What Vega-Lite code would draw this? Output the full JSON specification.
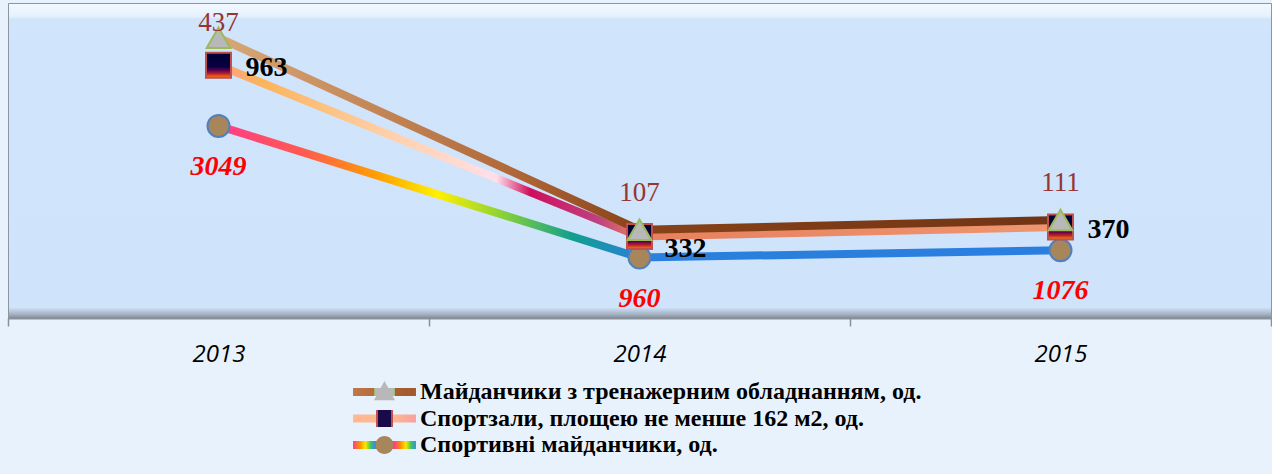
{
  "$schema": "https://vega.github.io/schema/vega-lite/v6.json",
  "autosize": "none",
  "width": 1263,
  "height": 315,
  "padding": {"left": 8, "top": 3, "right": 1, "bottom": 156},
  "background": "#e8f2fd",
  "data": {
    "values": [
      {"year": "2013", "series": "Майданчики з тренажерним обладнанням, од.", "order": 3, "value": 437},
      {"year": "2014", "series": "Майданчики з тренажерним обладнанням, од.", "order": 3, "value": 107},
      {"year": "2015", "series": "Майданчики з тренажерним обладнанням, од.", "order": 3, "value": 111},
      {"year": "2013", "series": "Спортзали, площею не менше 162 м2, од.", "order": 2, "value": 963},
      {"year": "2014", "series": "Спортзали, площею не менше 162 м2, од.", "order": 2, "value": 332},
      {"year": "2015", "series": "Спортзали, площею не менше 162 м2, од.", "order": 2, "value": 370},
      {"year": "2013", "series": "Спортивні майданчики, од.", "order": 1, "value": 3049},
      {"year": "2014", "series": "Спортивні майданчики, од.", "order": 1, "value": 960},
      {"year": "2015", "series": "Спортивні майданчики, од.", "order": 1, "value": 1076}
    ]
  },
  "transform": [
    {"stack": "value", "groupby": ["year"], "sort": [{"field": "order", "order": "ascending"}], "as": ["v0", "v1"]}
  ],
  "encoding": {
    "x": {
      "field": "year", "type": "ordinal",
      "scale": {"type": "band", "paddingInner": 0, "paddingOuter": 0},
      "axis": {
        "title": null, "labelAngle": 0, "tickBand": "extent",
        "labelFont": "Open Sans", "labelFontStyle": "italic", "labelFontSize": 24,
        "labelColor": "#000000", "labelPadding": 16,
        "domainColor": "#8a9098", "domainWidth": 2, "tickColor": "#8a9098", "tickSize": 8, "tickWidth": 1.5
      }
    },
    "y": {"field": "v1", "type": "quantitative", "scale": {"domain": [0, 5000]}, "axis": null}
  },
  "layer": [
    {
      "transform": [{"filter": "datum.order === 1"}],
      "mark": {"type": "line", "strokeWidth": 8, "strokeCap": "butt",
        "stroke": {"gradient": "linear", "x1": 0, "y1": 0, "x2": 1, "y2": 0, "stops": [
          {"offset": 0, "color": "#ff3d8b"},
          {"offset": 0.1, "color": "#ff5a50"},
          {"offset": 0.19, "color": "#ffa000"},
          {"offset": 0.26, "color": "#fff000"},
          {"offset": 0.34, "color": "#86d03a"},
          {"offset": 0.42, "color": "#10a08c"},
          {"offset": 0.5, "color": "#2a80dc"},
          {"offset": 1, "color": "#2a7ee0"}
        ]}}
    },
    {
      "transform": [{"filter": "datum.order === 2"}],
      "mark": {"type": "line", "strokeWidth": 8, "strokeCap": "butt",
        "stroke": {"gradient": "linear", "x1": 0, "y1": 0, "x2": 1, "y2": 0, "stops": [
          {"offset": 0, "color": "#ff9f8a"},
          {"offset": 0.05, "color": "#fbb45a"},
          {"offset": 0.2, "color": "#ffcfa8"},
          {"offset": 0.33, "color": "#ffe0ea"},
          {"offset": 0.37, "color": "#cf0f5c"},
          {"offset": 0.45, "color": "#bf4080"},
          {"offset": 0.5, "color": "#e8805e"},
          {"offset": 1, "color": "#ee9670"}
        ]}}
    },
    {
      "transform": [{"filter": "datum.order === 3"}],
      "mark": {"type": "line", "strokeWidth": 8, "strokeCap": "butt",
        "stroke": {"gradient": "linear", "x1": 0, "y1": 0, "x2": 1, "y2": 0, "stops": [
          {"offset": 0, "color": "#d8a878"},
          {"offset": 0.34, "color": "#b36a3a"},
          {"offset": 0.5, "color": "#884218"},
          {"offset": 1, "color": "#703414"}
        ]}}
    },
    {
      "transform": [{"filter": "datum.order === 1"}],
      "mark": {"type": "point", "shape": "circle", "filled": true, "size": 484, "fill": "#a8865c", "stroke": "#4f81bd", "strokeWidth": 2},
      "encoding": {
        "opacity": {
          "field": "series", "type": "ordinal",
          "scale": {"domain": ["Майданчики з тренажерним обладнанням, од.", "Спортзали, площею не менше 162 м2, од.", "Спортивні майданчики, од."], "range": [1, 1, 1]},
          "legend": {
            "title": null, "orient": "none", "legendX": 364.5, "legendY": 377,
            "direction": "vertical", "columns": 1,
            "padding": 0, "rowPadding": 2.5,
            "symbolSize": 484, "symbolStrokeWidth": 0, "symbolOpacity": 1,
            "labelFont": "Liberation Serif", "labelFontWeight": "bold", "labelFontSize": 24,
            "labelColor": "#000000", "labelLimit": 900, "labelOffset": 23.5,
            "encoding": {
              "symbols": {
                "shape": {
                  "condition": [
                    {"test": "datum.index === 0", "value": "M-2.86,-0.36 L2.86,-0.36 L2.86,0.36 L-2.86,0.36 Z M0,-1 L0.95,0.75 L-0.95,0.75 Z"},
                    {"test": "datum.index === 1", "value": "M-2.86,-0.36 L2.86,-0.36 L2.86,0.36 L-2.86,0.36 Z M-0.77,-0.77 L0.77,-0.77 L0.77,0.77 L-0.77,0.77 Z"}
                  ],
                  "value": "M-2.86,-0.36 L2.86,-0.36 L2.86,0.36 L-2.86,0.36 Z M-0.82,0 A0.82,0.82 0 1,1 0.82,0 A0.82,0.82 0 1,1 -0.82,0 Z"
                },
                "fill": {
                  "condition": [
                    {"test": "datum.index === 0", "value": {"gradient": "linear", "x1": 0, "y1": 0, "x2": 1, "y2": 0, "stops": [
                      {"offset": 0, "color": "#c0784a"}, {"offset": 0.33, "color": "#b46c3c"},
                      {"offset": 0.335, "color": "#9bbb59"}, {"offset": 0.36, "color": "#b8b8b8"},
                      {"offset": 0.64, "color": "#b8b8b8"}, {"offset": 0.665, "color": "#9bbb59"},
                      {"offset": 0.67, "color": "#a85e30"}, {"offset": 1, "color": "#a05a2e"}]}},
                    {"test": "datum.index === 1", "value": {"gradient": "linear", "x1": 0, "y1": 0, "x2": 1, "y2": 0, "stops": [
                      {"offset": 0, "color": "#ffb890"}, {"offset": 0.36, "color": "#ffb890"},
                      {"offset": 0.365, "color": "#c0504d"}, {"offset": 0.39, "color": "#c0504d"},
                      {"offset": 0.395, "color": "#1a0a4a"}, {"offset": 0.605, "color": "#1a0a4a"},
                      {"offset": 0.61, "color": "#c0504d"}, {"offset": 0.635, "color": "#c0504d"},
                      {"offset": 0.64, "color": "#ffb890"}, {"offset": 1, "color": "#f7a0a0"}]}}
                  ],
                  "value": {"gradient": "linear", "x1": 0, "y1": 0, "x2": 1, "y2": 0, "stops": [
                    {"offset": 0, "color": "#ff3c8c"}, {"offset": 0.1, "color": "#ff8c00"},
                    {"offset": 0.2, "color": "#ffe600"}, {"offset": 0.28, "color": "#3cc85a"},
                    {"offset": 0.345, "color": "#3c8cdc"}, {"offset": 0.35, "color": "#4f81bd"},
                    {"offset": 0.37, "color": "#a8865c"}, {"offset": 0.63, "color": "#a8865c"},
                    {"offset": 0.65, "color": "#4f81bd"}, {"offset": 0.655, "color": "#ff3c8c"},
                    {"offset": 0.75, "color": "#ff8c00"}, {"offset": 0.84, "color": "#ffe600"},
                    {"offset": 0.92, "color": "#3cc85a"}, {"offset": 1, "color": "#3c8cdc"}]}
                },
                "strokeWidth": {"value": 0},
                "opacity": {"value": 1}
              }
            }
          }
        }
      }
    },
    {
      "transform": [{"filter": "datum.order === 2"}],
      "mark": {"type": "point", "shape": "square", "filled": true, "size": 625, "opacity": 1,
        "fill": {"gradient": "linear", "x1": 0, "y1": 0, "x2": 0, "y2": 1, "stops": [
          {"offset": 0, "color": "#000033"}, {"offset": 0.55, "color": "#0a0040"},
          {"offset": 0.7, "color": "#5a0050"}, {"offset": 0.84, "color": "#c0202a"},
          {"offset": 1, "color": "#ff8a00"}]},
        "stroke": "#c0504d", "strokeWidth": 2}
    },
    {
      "transform": [{"filter": "datum.order === 3"}],
      "mark": {"type": "point", "shape": "triangle-up", "filled": true, "size": 560, "opacity": 1, "fill": "#b8b8b8", "stroke": "#9bbb59", "strokeWidth": 2}
    },
    {
      "transform": [{"filter": "datum.order === 3 && datum.year === '2013'"}],
      "mark": {"type": "text", "font": "Liberation Serif", "fontSize": 27, "color": "#963634", "baseline": "middle", "dy": -15},
      "encoding": {"text": {"field": "value", "type": "quantitative"}}
    },
    {
      "transform": [{"filter": "datum.order === 3 && datum.year !== '2013'"}],
      "mark": {"type": "text", "font": "Liberation Serif", "fontSize": 27, "color": "#963634", "baseline": "middle", "dy": -37},
      "encoding": {"text": {"field": "value", "type": "quantitative"}}
    },
    {
      "transform": [{"filter": "datum.order === 2 && datum.year !== '2014'"}],
      "mark": {"type": "text", "font": "Liberation Serif", "fontSize": 28, "fontWeight": "bold", "color": "#000000", "baseline": "middle", "align": "left", "dx": 27, "dy": 3},
      "encoding": {"text": {"field": "value", "type": "quantitative"}}
    },
    {
      "transform": [{"filter": "datum.order === 2 && datum.year === '2014'"}],
      "mark": {"type": "text", "font": "Liberation Serif", "fontSize": 28, "fontWeight": "bold", "color": "#000000", "baseline": "middle", "align": "left", "dx": 25, "dy": 12},
      "encoding": {"text": {"field": "value", "type": "quantitative"}}
    },
    {
      "transform": [{"filter": "datum.order === 1"}],
      "mark": {"type": "text", "font": "Liberation Serif", "fontSize": 28, "fontWeight": "bold", "fontStyle": "italic", "color": "#ff0000", "baseline": "middle", "dy": 41},
      "encoding": {"text": {"field": "value", "type": "quantitative", "format": "d"}}
    }
  ],
  "config": {
    "view": {
      "fill": {"gradient": "linear", "x1": 0, "y1": 0, "x2": 0, "y2": 1, "stops": [
        {"offset": 0, "color": "#f2f8ff"},
        {"offset": 0.04, "color": "#e6f1fe"},
        {"offset": 0.05, "color": "#d0e4fb"},
        {"offset": 0.965, "color": "#cfe3fb"},
        {"offset": 0.985, "color": "#a9b6c6"},
        {"offset": 1, "color": "#7f8a99"}
      ]},
      "stroke": "#8c96a3",
      "strokeWidth": 1
    },
    "text": {"limit": 0}
  }
}
